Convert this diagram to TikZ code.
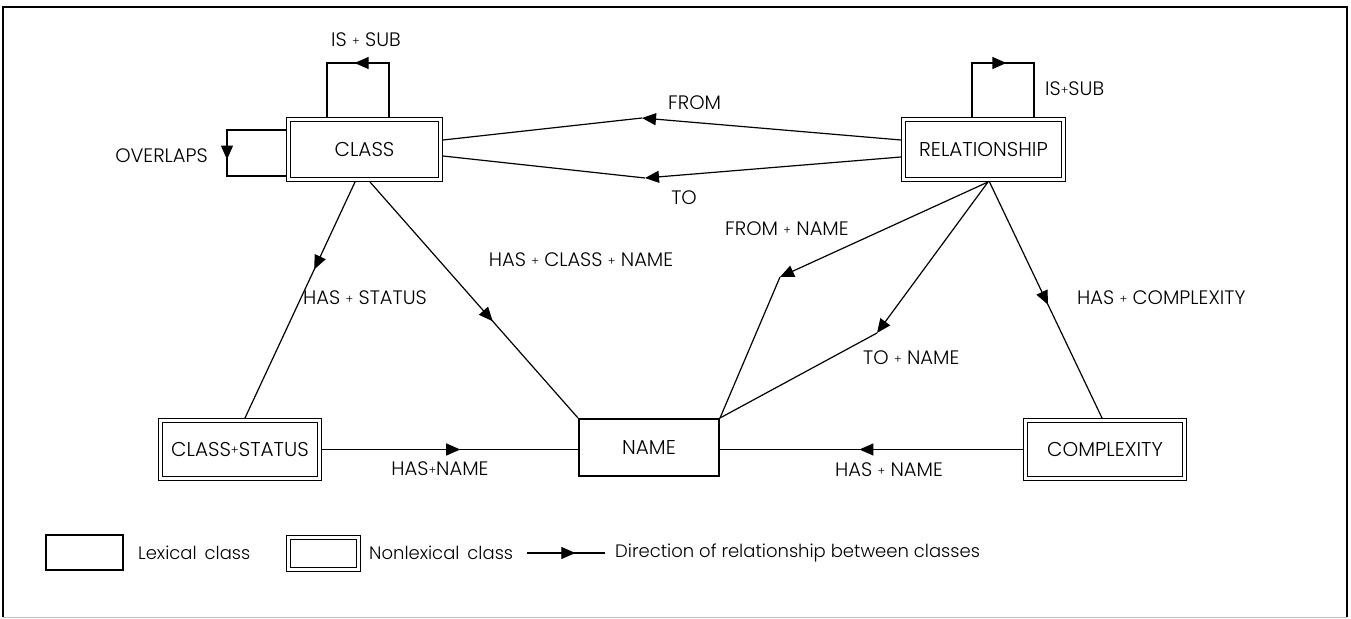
\documentclass[tikz,border=0pt]{standalone}
\usepackage{fontspec}
\IfFontExistsTF{Poppins Light}{\setmainfont{Poppins Light}}{\setmainfont{Poppins}}
\usetikzlibrary{arrows.meta,decorations.markings,calc}

% small raised plus used inside relation names
\newcommand{\pl}{\raisebox{0.15ex}{\scalebox{0.6}{+}}}

\tikzset{
  lex/.style={draw, line width=2.4pt, outer sep=1.2pt, inner sep=0pt,
    font=\fontsize{20}{20}\selectfont},
  nlex/.style={draw, double, double distance=2.6pt, line width=1.4pt,
    outer sep=2.7pt, inner sep=0pt, font=\fontsize{20}{20}\selectfont},
  rel/.style={line width=1.2pt},
  lbl/.style={font=\fontsize{19.5}{19.5}\selectfont, inner sep=0pt},
  key/.style={font=\fontsize{18}{18}\selectfont, inner sep=0pt},
  tipend/.style={rel, -{Triangle[length=14pt,width=12pt]}},
  marrow/.style={rel, postaction={decorate}, decoration={markings,
    mark=at position #1 with {\arrow{Triangle[length=14pt,width=12pt]}}}},
}

\begin{document}
\begin{tikzpicture}[x=1pt,y=-1pt]
\useasboundingbox (0,0) rectangle (1351,618);

% frame
\draw[line width=1.2pt] (3,617) -- (3,7) -- (1347,7) -- (1347,617);
\draw[line width=1pt, black!25] (3,617) -- (1347,617);

% classes
\node[nlex, minimum width=151.6pt, minimum height=59.6pt] (cls) at (364.5,149.5) {CLASS};
\node[nlex, minimum width=159.6pt, minimum height=59.6pt] (rls) at (983.5,149.5) {RELATIONSHIP};
\node[nlex, minimum width=158.6pt, minimum height=57.6pt] (cs) at (240,449.5) {CLASS\pl STATUS};
\node[lex, minimum width=139.6pt, minimum height=56.6pt] (name) at (649,447.5) {NAME};
\node[nlex, minimum width=158.6pt, minimum height=57.6pt] (cx) at (1105,449.5) {COMPLEXITY};

% bend points
\coordinate (fb) at (642,118);
\coordinate (tb) at (645,178);
\coordinate (fnb) at (780,277);
\coordinate (tnb) at (877,333);

% self relations
\draw[marrow=0.52] ($(cls.north)+(24.5,0)$) -- ($(cls.north)+(24.5,-54)$)
  -- ($(cls.north)+(-37.5,-54)$) -- ($(cls.north)+(-37.5,0)$);
\draw[marrow=0.54] ($(cls.west)+(0,-19.5)$) -- ++(-59,0) -- ++(0,46) -- ++(59,0);
\draw[marrow=0.52] ($(rls.north)+(-11.5,0)$) -- ($(rls.north)+(-11.5,-54)$)
  -- ($(rls.north)+(50.5,-54)$) -- ($(rls.north)+(50.5,0)$);

% FROM / TO
\draw[tipend] ($(rls.west)+(0,-9.5)$) -- (fb);
\draw[rel] (fb) -- ($(cls.east)+(0,-9.5)$);
\draw[tipend] ($(rls.west)+(0,7.5)$) -- (tb);
\draw[rel] (tb) -- ($(cls.east)+(0,6.5)$);

% CLASS relations
\draw[marrow=0.37] ($(cls.south)+(-9.5,0)$) -- ($(cs.north)+(5,0)$);
\draw[marrow=0.59] ($(cls.south)+(5.5,0)$) -- (name.north west);

% HAS+NAME
\draw[marrow=0.54] (cs.east) -- (cs.east -| name.west);
\draw[marrow=0.54] (cx.west) -- (cx.west -| name.east);

% RELATIONSHIP relations
\draw[tipend] ($(rls.south)+(4.5,0)$) -- (fnb);
\draw[rel] (fnb) -- (name.north east);
\draw[tipend] ($(rls.south)+(4.5,0)$) -- (tnb);
\draw[rel] (tnb) -- (name.north east);
\draw[marrow=0.52] ($(rls.south)+(6,0)$) -- ($(cx.north)+(-3,0)$);

% relation names
\node[lbl, anchor=west] (l1) at (331,40) {IS \pl{} SUB};
\node[lbl, anchor=east] (l2) at (208,156) {OVERLAPS};
\node[lbl, anchor=west] (l3) at (1045,89) {IS\pl SUB};
\node[lbl, anchor=west] (l4) at (668,103) {FROM};
\node[lbl] (l5) at (684,198) {TO};
\node[lbl, anchor=west] (l6) at (725,229) {FROM \pl{} NAME};
\node[lbl] (l7) at (581,260) {HAS \pl{} CLASS \pl{} NAME};
\node[lbl, anchor=west] (l8) at (303,298) {HAS \pl{} STATUS};
\node[lbl, anchor=west] (l9) at (1077,298) {HAS \pl{} COMPLEXITY};
\node[lbl, anchor=west] (l10) at (863,358) {TO \pl{} NAME};
\node[lbl] (l11) at (440,469) {HAS\pl NAME};
\node[lbl] (l12) at (889,470) {HAS \pl{} NAME};

% legend
\node[lex, minimum width=76.6pt, minimum height=34.6pt] (k1) at (84.5,552.5) {};
\node[key, anchor=west] (k1t) at (138,553) {Lexical\, class};
\node[nlex, minimum width=69.6pt, minimum height=31.6pt] (k2) at (323.5,553.5) {};
\node[key, anchor=west] (k2t) at (369,553) {Nonlexical\, class};
\coordinate (ka) at (527,553);
\coordinate (kb) at (605,553);
\draw[marrow=0.62] (ka) -- (kb);
\node[key, anchor=west] (k3t) at (615,553) {Direction of relationship between classes};
\end{tikzpicture}
\end{document}
